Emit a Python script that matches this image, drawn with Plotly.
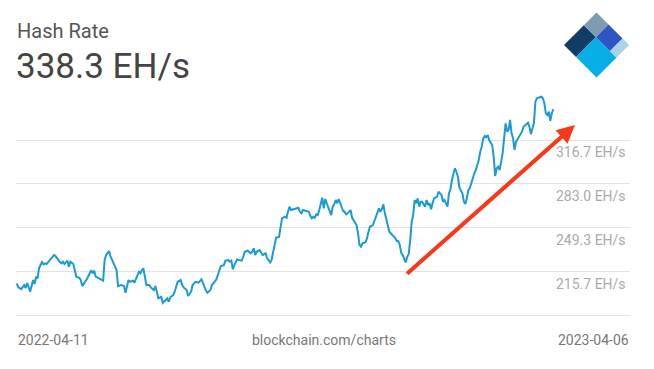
import math
import pandas as pd
import plotly.graph_objects as go

# ---------------- data ----------------
start_date = "2022-04-11"
end_date = "2023-04-06"
title_text = "Hash Rate"
headline_value = "338.3 EH/s"
source_text = "blockchain.com/charts"

day_offset = [
    0, 1, 3, 5, 6, 7, 8, 9, 11, 12, 13, 14, 15, 17, 18, 19, 20, 22, 23, 25,
    26, 27, 29, 30, 31, 32, 34, 35, 36, 38, 39, 40, 42, 43, 44, 46, 47, 49, 50, 51,
    52, 53, 55, 56, 58, 59, 60, 62, 63, 65, 67, 68, 70, 72, 73, 75, 76, 78, 79, 82,
    83, 84, 85, 86, 87, 89, 90, 92, 93, 94, 95, 97, 98, 100, 101, 102, 103, 105, 106, 108,
    110, 111, 112, 114, 115, 117, 118, 120, 122, 124, 125, 127, 128, 130, 131, 133, 134, 136, 137, 139,
    140, 142, 143, 144, 145, 146, 148, 149, 151, 152, 153, 155, 157, 158, 159, 160, 161, 163, 164, 165,
    167, 168, 169, 170, 171, 172, 173, 174, 176, 177, 178, 180, 181, 182, 183, 184, 186, 187, 189, 190,
    191, 192, 194, 196, 197, 198, 199, 200, 201, 202, 203, 205, 206, 207, 208, 209, 210, 211, 212, 213,
    214, 215, 216, 217, 218, 219, 220, 221, 222, 224, 225, 226, 228, 229, 230, 231, 232, 234, 235, 236,
    237, 239, 240, 241, 243, 244, 245, 246, 247, 248, 249, 250, 252, 254, 255, 256, 257, 258, 259, 261,
    262, 263, 264, 265, 266, 267, 268, 269, 270, 271, 272, 273, 274, 275, 276, 277, 278, 279, 280, 282,
    283, 285, 286, 287, 288, 289, 290, 291, 292, 294, 295, 296, 297, 298, 299, 300, 301, 302, 303, 304,
    305, 306, 307, 308, 310, 311, 312, 313, 314, 315, 316, 317, 319, 320, 321, 322, 323, 324, 325, 326,
    328, 329, 330, 331, 332, 333, 334, 335, 336, 338, 339, 340, 342, 343, 344, 345, 347, 348, 349, 351,
    352, 353, 354, 355, 356, 357, 358, 359, 360,
]

hash_rate = [
    206.8, 204.0, 202.4, 205.5, 203.2, 207.0, 204.0, 200.4, 209.3, 206.3, 211.9, 210.6, 218.5, 223.1, 221.4, 222.1, 221.6, 224.2, 226.0, 228.5,
    227.7, 226.0, 223.1, 222.1, 223.4, 221.6, 224.2, 219.5, 223.4, 221.6, 215.7, 211.9, 211.1, 209.3, 204.7, 208.0, 209.9, 214.5, 217.0, 214.5,
    216.5, 211.9, 210.6, 209.9, 208.8, 224.7, 228.5, 231.6, 227.2, 222.1, 217.0, 204.7, 205.5, 204.7, 199.6, 209.3, 208.0, 208.8, 207.3, 215.7,
    214.5, 217.0, 218.3, 211.9, 205.5, 205.5, 203.7, 201.7, 204.7, 200.4, 195.3, 196.5, 191.9, 194.0, 195.3, 192.7, 196.1, 197.8, 200.4, 208.0,
    209.3, 205.5, 203.7, 201.7, 197.1, 200.4, 205.5, 208.0, 207.3, 209.9, 206.8, 201.1, 199.6, 201.7, 205.5, 208.8, 209.9, 217.0, 220.1, 220.8,
    224.2, 224.7, 223.4, 224.2, 217.6, 220.8, 225.2, 224.7, 224.2, 227.2, 231.0, 231.8, 229.8, 231.0, 233.7, 228.5, 231.0, 232.3, 229.8, 228.5,
    229.8, 226.0, 224.7, 222.9, 224.7, 231.0, 238.7, 241.8, 242.6, 249.0, 256.7, 257.9, 257.1, 261.7, 265.6, 263.0, 263.8, 264.3, 264.8, 261.7,
    260.5, 263.0, 262.3, 261.7, 258.6, 256.7, 257.9, 257.1, 259.7, 259.2, 263.0, 272.5, 264.3, 271.5, 268.2, 265.6, 263.0, 259.2, 265.6, 267.4,
    270.7, 268.2, 271.5, 268.2, 264.3, 262.3, 261.7, 259.7, 260.5, 263.0, 257.1, 255.4, 251.5, 245.2, 236.2, 234.9, 237.5, 238.3, 241.3, 246.4,
    250.2, 251.5, 254.1, 257.9, 264.3, 261.7, 263.8, 267.4, 260.5, 255.4, 250.2, 246.4, 243.9, 241.6, 239.2, 239.2, 236.2, 230.1, 228.5, 222.8,
    227.2, 229.3, 240.0, 254.1, 259.2, 270.7, 268.2, 272.0, 265.6, 269.4, 269.4, 266.9, 265.6, 270.7, 266.9, 268.2, 263.6, 268.2, 272.0, 273.2,
    277.1, 274.5, 269.4, 270.7, 268.2, 265.6, 275.8, 278.9, 286.0, 295.0, 292.4, 288.5, 280.4, 278.4, 275.8, 269.4, 267.6, 272.0, 278.4, 279.7,
    283.5, 288.5, 291.2, 293.7, 301.4, 307.8, 311.6, 318.0, 319.8, 318.8, 320.6, 316.7, 312.9, 303.9, 289.1, 295.0, 296.2, 293.7, 301.4, 306.5,
    329.5, 323.1, 324.4, 332.1, 321.9, 318.0, 309.1, 315.4, 317.3, 321.9, 323.1, 326.9, 329.5, 330.0, 326.9, 321.3, 329.5, 346.1, 348.7, 349.9,
    349.9, 348.7, 344.9, 337.2, 335.9, 338.4, 331.5, 337.2, 340.3,
]

tick_values = [182.0, 215.7, 249.3, 283.0, 316.7]
tick_labels = ["", "215.7 EH/s", "249.3 EH/s", "283.0 EH/s", "316.7 EH/s"]

# ---------------- figure geometry ----------------
W, H = 654, 369
ML, MR, MT, MB = 16, 24, 88, 49
PW, PH = W - ML - MR, H - MT - MB


def paper(x, y):
    return (x - ML) / PW, (H - MB - y) / PH


t0 = pd.Timestamp(start_date)
dates = [t0 + pd.Timedelta(days=d) for d in day_offset]
px_per_day = 1.4906
x_lo = t0 - pd.Timedelta(days=0.7 / px_per_day)
x_hi = t0 + pd.Timedelta(days=360 + (630 - 553.3) / px_per_day)

FONT = "Roboto, 'Open Sans', Arial, sans-serif"

fig = go.Figure()
fig.add_trace(go.Scatter(
    x=dates, y=hash_rate, mode="lines",
    line=dict(color="#1a9ad6", width=2),
    hoverinfo="skip", showlegend=False,
))

annotations = []
# title block
ax_, ay_ = paper(15, 17)
annotations.append(dict(text=title_text, x=ax_, y=ay_, xref="paper", yref="paper",
                        xanchor="left", yanchor="top", showarrow=False,
                        font=dict(family=FONT, size=20, color="#555555")))
ax_, ay_ = paper(14, 44)
annotations.append(dict(text=headline_value, x=ax_, y=ay_, xref="paper", yref="paper",
                        xanchor="left", yanchor="top", showarrow=False,
                        font=dict(family=FONT, size=35, color="#444444")))
# y tick labels (below gridlines, right aligned)
for v, lab in zip(tick_values, tick_labels):
    if not lab:
        continue
    annotations.append(dict(text=lab, x=1.0, y=v, xref="paper", yref="y",
                            xanchor="right", yanchor="top", yshift=-2, xshift=-2,
                            showarrow=False,
                            font=dict(family=FONT, size=14, color="#aaaaaa")))
# footer
fy = paper(0, 340)[1]
annotations.append(dict(text=start_date, x=paper(16, 0)[0], y=fy, xref="paper", yref="paper",
                        xanchor="left", yanchor="middle", showarrow=False,
                        font=dict(family=FONT, size=14, color="#777777")))
annotations.append(dict(text=source_text, x=paper(324, 0)[0], y=fy, xref="paper", yref="paper",
                        xanchor="center", yanchor="middle", showarrow=False,
                        font=dict(family=FONT, size=14, color="#777777")))
annotations.append(dict(text=end_date, x=paper(631, 0)[0], y=fy, xref="paper", yref="paper",
                        xanchor="right", yanchor="middle", showarrow=False,
                        font=dict(family=FONT, size=14, color="#777777")))
# red arrow
tx, ty = paper(575, 125)
annotations.append(dict(text="", x=tx, y=ty, xref="paper", yref="paper",
                        showarrow=True, ax=405.5 - 575, ay=275 - 125,
                        axref="pixel", ayref="pixel",
                        arrowhead=2, arrowsize=0.9, arrowwidth=4,
                        arrowcolor="#f53a1c", standoff=0))

# logo (blockchain.com diamond) as shapes
Lx, Ly, side = 564.0, 45.0, 46.0
eu = (side / math.sqrt(2), -side / math.sqrt(2))
ew = (side / math.sqrt(2), side / math.sqrt(2))


def diamond_pt(u, w):
    x = Lx + u * eu[0] + w * ew[0]
    y = Ly + u * eu[1] + w * ew[1]
    return paper(x, y)


def region(u0, u1, w0, w1, color):
    pts = [diamond_pt(u0, w0), diamond_pt(u1, w0), diamond_pt(u1, w1), diamond_pt(u0, w1)]
    path = "M " + " L ".join(f"{p[0]:.5f},{p[1]:.5f}" for p in pts) + " Z"
    return dict(type="path", path=path, xref="paper", yref="paper",
                fillcolor=color, line=dict(width=0), layer="above")


us, ws1, ws2 = 0.61, 0.37, 0.80
shapes = [
    region(0, us, 0, ws1, "#123b65"),
    region(us, 1, 0, ws1, "#7d9cb2"),
    region(us, 1, ws1, ws2, "#2f55c4"),
    region(us, 1, ws2, 1, "#a9d3e8"),
    region(0, us, ws1, 1, "#06aee8"),
]

fig.update_layout(
    width=W, height=H,
    margin=dict(l=ML, r=MR, t=MT, b=MB),
    paper_bgcolor="white", plot_bgcolor="white",
    xaxis=dict(type="date", range=[x_lo, x_hi], showgrid=False, zeroline=False,
               showticklabels=False, showline=False, ticks=""),
    yaxis=dict(range=[178.7, 356.6], tickvals=tick_values, showticklabels=False,
               showgrid=True, gridcolor="#e2e2e2", gridwidth=1, zeroline=False,
               showline=False, ticks=""),
    annotations=annotations,
    shapes=shapes,
    showlegend=False,
)

fig.write_html("out.html", config={"displayModeBar": False})
